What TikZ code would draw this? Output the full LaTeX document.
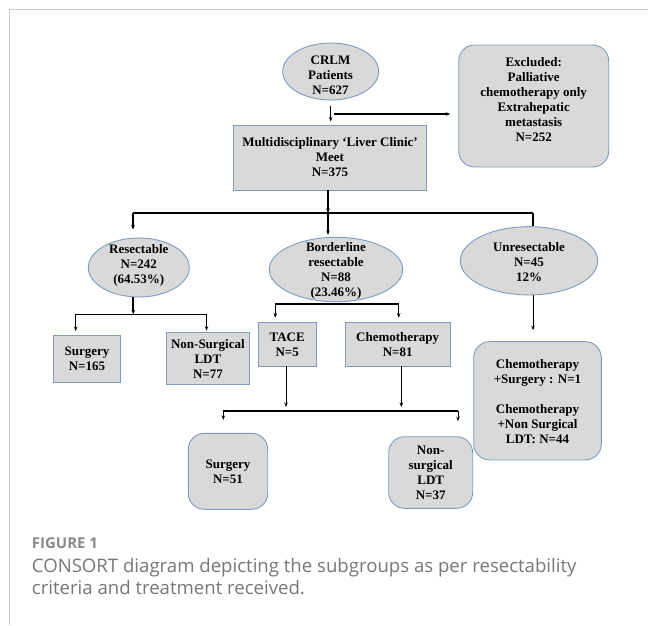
\documentclass[tikz,border=0pt]{standalone}
\usepackage{fontspec}
\setmainfont{Liberation Serif}
\newfontfamily\capfont{Open Sans}
\usetikzlibrary{shapes.geometric,arrows.meta,calc}
\definecolor{boxfill}{HTML}{D9D9D9}
\definecolor{boxline}{HTML}{7E9BC3}
\definecolor{framegray}{HTML}{C8C8C8}
\definecolor{figgray}{HTML}{8A8A8A}
\definecolor{capgray}{HTML}{777777}
\tikzset{
  shp/.style={draw=boxline, fill=boxfill, line width=0.9pt, inner sep=0pt},
  ell/.style={shp, ellipse},
  rect/.style={shp, rectangle},
  rbox/.style={shp, rectangle, rounded corners=16pt},
  txt/.style={align=center, inner sep=0pt, font=\fontsize{13}{15}\selectfont\bfseries},
  tip/.style={-{Stealth[length=4.5pt,width=3.5pt]}},
  thk/.style={line width=1.8pt},
  med/.style={line width=1.2pt},
  thn/.style={line width=0.8pt},
}
\begin{document}
\begin{tikzpicture}[x=1pt,y=-1pt]
\useasboundingbox (0,0) rectangle (648,625);
% frame
\draw[framegray, line width=1pt] (9.5,625) -- (9.5,9.5) -- (648,9.5);

% nodes
\node[ell, minimum width=96pt, minimum height=57pt] (crlm) at (330.7,71.5) {};
\node[txt] (crlmt) at (330.5,75.5) {CRLM\\Patients\\N=627};

\node[rbox, minimum width=150pt, minimum height=122pt] (excl) at (533.7,106) {};
\node[txt] (exclt) at (533.7,99.5) {Excluded:\\Palliative\\chemotherapy only\\Extrahepatic\\metastasis\\N=252};

\node[rect, minimum width=193.4pt, minimum height=65pt] (multi) at (330,157.5) {};
\node[txt] (multit) at (multi) {Multidisciplinary `Liver Clinic'\\Meet\\N=375};

\node[ell, minimum width=101pt, minimum height=59pt] (rs) at (138.8,267.5) {};
\node[txt] (rst) at (138.8,265.5) {Resectable\\N=242\\(64.53\%)};

\node[ell, minimum width=133.4pt, minimum height=64.4pt] (bl) at (336,269.5) {};
\node[txt] (blt) at (336,270.5) {Borderline\\resectable\\N=88\\(23.46\%)};

\node[ell, minimum width=137.4pt, minimum height=68.3pt] (ur) at (529,260.8) {};
\node[txt] (urt) at (529,261.7) {Unresectable\\N=45\\12\%};

\node[rect, minimum width=67.4pt, minimum height=47.3pt] (surg1) at (87,358.7) {};
\node[txt] (surg1t) at (surg1) {Surgery\\N=165};

\node[rect, minimum width=82.5pt, minimum height=51.6pt] (nsl1) at (207.9,358.5) {};
\node[txt] (nsl1t) at (nsl1) {Non-Surgical\\LDT\\N=77};

\node[rect, minimum width=57.7pt, minimum height=43.3pt] (tace) at (287.2,344.3) {};
\node[txt] (tacet) at (tace) {TACE\\N=5};

\node[rect, minimum width=105.3pt, minimum height=43.3pt] (chemo) at (397.7,344.3) {};
\node[txt] (chemot) at (chemo) {Chemotherapy\\N=81};

\node[rbox, minimum width=127.6pt, minimum height=118.3pt] (chr) at (537.5,400.8) {};
\node[txt] (chrt) at (537.5,401.7) {Chemotherapy\\+Surgery : N=1\\[15pt]Chemotherapy\\+Non Surgical\\LDT: N=44};

\node[rbox, minimum width=79.4pt, minimum height=76pt] (surg2) at (228,471.3) {};
\node[txt] (surg2t) at (228,472) {Surgery\\N=51};

\node[rbox, minimum width=84pt, minimum height=71.6pt] (nsl2) at (430.7,472.5) {};
\node[txt] (nsl2t) at (nsl2) {Non-\\surgical\\LDT\\N=37};

% junction coordinates
\coordinate (j1) at (334,114);
\coordinate (barm) at (328,213);
\coordinate (barl) at (133,213);
\coordinate (barr) at (533,213);
\coordinate (rsb) at (133.3,314.3);
\coordinate (rsl) at (75.7,314.3);
\coordinate (rsr) at (206.5,314.3);
\coordinate (bll) at (275.3,304);
\coordinate (blr) at (398.7,304);
\coordinate (bbl) at (223.3,411);
\coordinate (bbr) at (458,411);
\coordinate (tacej) at (286,411);
\coordinate (chemoj) at (401.3,411);

% connectors
\draw[thn, tip, shorten <=6pt, shorten >=3pt] (crlm.south) -- (crlm.south |- multi.north);
\draw[med, tip, shorten >=8pt] (j1) -- (j1 -| excl.west);
\draw[thk, tip] (multi.south -| barm) -- (barm);
\draw[med] (barl) -- (barr);
\draw[thk, tip, shorten >=8pt] (barl) -- (barl |- rs.north);
\draw[thk, tip, shorten >=2pt] (barm) -- (barm |- bl.north);
\draw[med] (barr) -- (barr |- ur.north);

\draw[thk, tip] (rs.south -| rsb) -- (rsb);
\draw[med] (rsl) -- (rsr);
\draw[thn, tip, shorten >=3.5pt] (rsl) -- (rsl |- surg1.north);
\draw[thn, tip, shorten >=1.5pt] (rsr) -- (rsr |- nsl1.north);

\draw[med] (bll) -- (blr);
\draw[thn, tip, shorten >=4.5pt] (bll) -- (bll |- tace.north);
\draw[thn, tip, shorten >=4.5pt] (blr) -- (blr |- chemo.north);

\draw[thn, tip, shorten >=4pt] (tace.south -| tacej) -- (tacej);
\draw[thn, tip, shorten >=4pt] (chemo.south -| chemoj) -- (chemoj);
\draw[med] (bbl) -- (bbr);
\draw[thn, tip, shorten >=13pt] (bbl) -- (bbl |- surg2.north);
\draw[thn, tip, shorten >=15pt] (bbr) -- (bbr |- nsl2.north);

\draw[thn, tip, shorten >=11pt] (ur.south -| barr) -- (barr |- chr.north);

% caption
\node[anchor=base west, inner sep=0pt, text=figgray, font=\capfont\bfseries\fontsize{15}{18}\selectfont] (fig) at (31.7,548.3) {FIGURE 1};
\node[anchor=base west, inner sep=0pt, text=capgray, font=\capfont\fontsize{18.6}{22.5}\selectfont] (cap1) at (31.7,572.5) {CONSORT diagram depicting the subgroups as per resectability};
\node[anchor=base west, inner sep=0pt, text=capgray, font=\capfont\fontsize{18.6}{22.5}\selectfont] (cap2) at (31.7,594.5) {criteria and treatment received.};
\end{tikzpicture}
\end{document}
